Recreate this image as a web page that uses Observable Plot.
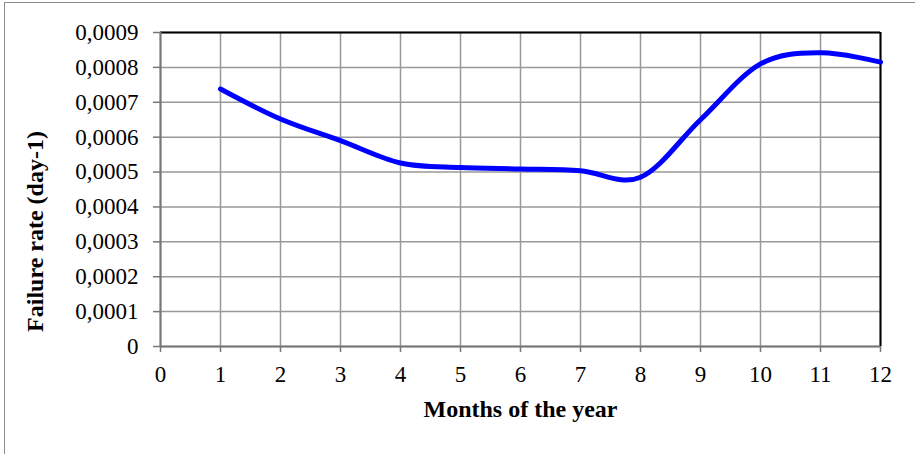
<!DOCTYPE html>
<html>
<head>
<meta charset="utf-8">
<script src="https://cdn.jsdelivr.net/npm/d3@7"></script>
<script src="https://cdn.jsdelivr.net/npm/@observablehq/plot@0.6"></script>
<style>
  html, body { margin: 0; padding: 0; background: #fff; }
  #wrap { position: relative; width: 915px; height: 454px; overflow: hidden; }
  #frame { position: absolute; left: 4px; top: 2px; width: 1000px; height: 1000px; border-top: 1px solid #8c8c8c; border-left: 1px solid #8c8c8c; pointer-events: none; }
  #chart { position: absolute; left: 0; top: 0; }
</style>
</head>
<body>
<div id="wrap"><div id="chart"></div><div id="frame"></div></div>
<script>
const months = [1, 2, 3, 4, 5, 6, 7, 8, 9, 10, 11, 12];
const failureRate = [0.000738, 0.000652, 0.00059, 0.000526, 0.000513, 0.000509, 0.000504, 0.000485, 0.00065, 0.00081, 0.000842, 0.000815];
const xTicks = [0, 1, 2, 3, 4, 5, 6, 7, 8, 9, 10, 11, 12];
const yTicks = [0, 0.0001, 0.0002, 0.0003, 0.0004, 0.0005, 0.0006, 0.0007, 0.0008, 0.0009];
const xTitle = "Months of the year";
const yTitle = "Failure rate (day-1)";

const data = months.map((m, i) => ({month: m, rate: failureRate[i]}));
const fmtY = v => v === 0 ? "0" : v.toFixed(4).replace(".", ",");

const chart = Plot.plot({
  width: 915,
  height: 454,
  marginLeft: 160,
  marginRight: 35,
  marginTop: 32,
  marginBottom: 108,
  style: {fontFamily: "'Liberation Serif', 'Times New Roman', serif", fontSize: "23px", color: "#000", background: "#fff"},
  x: {domain: [0, 12], ticks: xTicks, label: null},
  y: {domain: [0, 0.0009], ticks: yTicks, label: null},
  marks: [
    Plot.gridX(xTicks, {stroke: "#999", strokeOpacity: 1, strokeWidth: 1.5}),
    Plot.gridY(yTicks, {stroke: "#999", strokeOpacity: 1, strokeWidth: 1.5}),
    Plot.ruleY([0.0009], {stroke: "#000", strokeWidth: 2}),
    Plot.ruleX([12], {stroke: "#000", strokeWidth: 2}),
    Plot.ruleX([0], {stroke: "#777", strokeWidth: 2}),
    Plot.ruleY([0], {stroke: "#777", strokeWidth: 2}),
    Plot.axisX({ticks: xTicks, tickFormat: d => String(d), tickSize: 6, tickPadding: 13, stroke: "#777", strokeWidth: 1.5, fontSize: 23, fill: "#000", label: null}),
    Plot.axisY({ticks: yTicks, tickFormat: fmtY, tickSize: 7, tickPadding: 15, stroke: "#777", strokeWidth: 1.5, fontSize: 23, fill: "#000", label: null}),
    Plot.line(data, {x: "month", y: "rate", stroke: "#0000ff", strokeWidth: 5, curve: "cardinal", strokeLinecap: "round"}),
    Plot.text([xTitle], {frameAnchor: "bottom", dy: 70, text: d => d, fontWeight: "bold", fontSize: 24, fill: "#000"}),
    Plot.text([yTitle], {frameAnchor: "left", textAnchor: "middle", dx: -125, dy: 42, rotate: -90, text: d => d, fontWeight: "bold", fontSize: 24, fill: "#000"})
  ]
});
document.getElementById("chart").appendChild(chart);
</script>
</body>
</html>
